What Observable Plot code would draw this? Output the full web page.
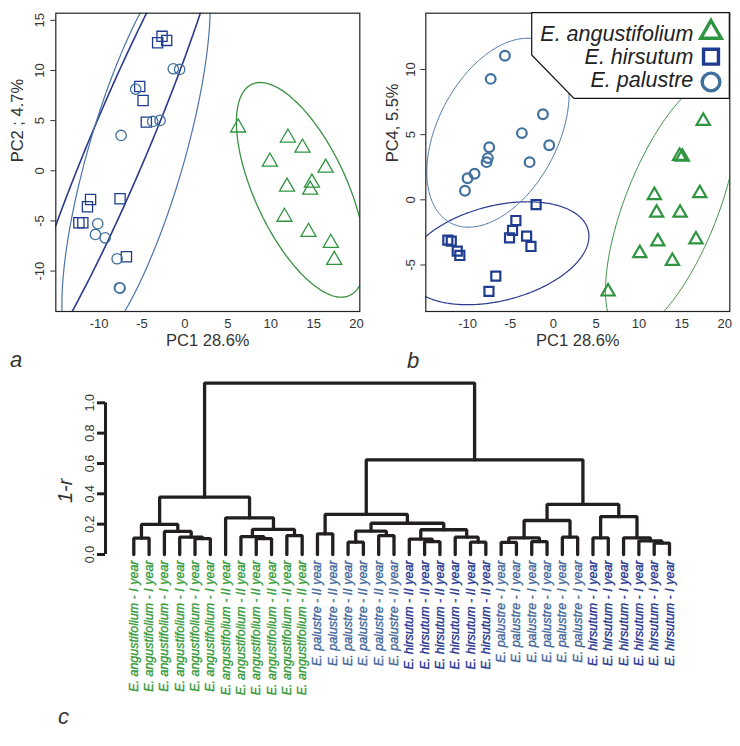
<!DOCTYPE html>
<html><head><meta charset="utf-8">
<script src="https://cdn.jsdelivr.net/npm/d3@7"></script>
<script src="https://cdn.jsdelivr.net/npm/@observablehq/plot@0.6"></script>
<style>
body{margin:0;background:#fff;}
#fig{position:relative;width:740px;height:746px;font-family:"Liberation Sans",Arial,sans-serif;}
#fig > svg{position:absolute;}
</style></head><body><div id="fig"></div>
<script>
// ---------- species ----------
const species = ["E. angustifolium", "E. hirsutum", "E. palustre"];
const speciesSymbols = ["triangle", "square", "circle"];
const speciesColors = ["#2f9440", "#1f3c8f", "#40709e"];
const ellipseColors = ["#3a9043", "#2b3a8c", "#4a74a8"];
const labelColors = ["#369a3a", "#27378f", "#44689b"];

// ---------- panel a: PC1 vs PC2 ----------
const angA_pc1 = [6.2, 12.0, 13.7, 9.9, 16.4, 14.8, 14.6, 11.9, 11.6, 14.4, 17.0, 17.4];
const angA_pc2 = [4.3, 3.3, 2.3, 0.9, 0.3, -1.2, -1.9, -1.6, -4.6, -6.1, -7.2, -8.9];
const hirA_pc1 = [-2.67, -3.18, -2.13, -5.27, -4.88, -4.5, -11.0, -11.36, -7.56, -12.36, -11.9, -6.82];
const hirA_pc2 = [13.4, 12.76, 13.0, 8.4, 7.0, 4.85, -2.86, -3.59, -2.79, -5.18, -5.18, -8.57];
const palA_pc1 = [-1.36, -0.62, -5.74, -3.76, -2.9, -7.44, -10.16, -10.43, -9.3, -7.9, -7.64, -7.56];
const palA_pc2 = [10.17, 10.1, 8.14, 4.92, 5.02, 3.52, -5.28, -6.35, -6.68, -8.77, -11.66, -11.7];
// ellipse: centre x, centre y, half-width, half-height, correlation
const ellA_ang = [13.5, -1.9, 7.5, 10.7, -0.63];
const ellA_hir = [-7.5, 3.0, 12.2, 24.0, 0.953];
const ellA_pal = [-5.7, 1.5, 8.64, 20.0, 0.741];

// ---------- panel b: PC1 vs PC4 ----------
const angB_pc1 = [17.5, 14.75, 15.06, 17.1, 11.8, 12.06, 14.8, 12.2, 16.65, 10.1, 13.9, 6.4];
const angB_pc4 = [6.05, 3.35, 3.3, 0.5, 0.35, -1.0, -1.0, -3.2, -3.05, -4.1, -4.7, -7.05];
const hirB_pc1 = [-2.0, -4.36, -4.75, -5.1, -3.11, -2.6, -12.3, -11.9, -11.2, -10.9, -6.7, -7.5];
const hirB_pc4 = [-0.36, -1.59, -2.35, -2.92, -2.79, -3.58, -3.09, -3.17, -3.94, -4.27, -5.86, -7.03];
const palB_pc1 = [-5.64, -7.3, -1.2, -3.66, -0.47, -7.47, -7.63, -7.78, -2.76, -9.18, -10.0, -10.3];
const palB_pc4 = [11.05, 9.28, 6.57, 5.12, 4.19, 4.04, 3.2, 2.89, 2.89, 2.0, 1.66, 0.69];
const ellB_ang = [13.8, -0.5, 7.7, 9.8, 0.66];
const ellB_hir = [-6.5, -4.1, 10.66, 3.95, 0.33];
const ellB_pal = [-6.45, 5.15, 8.3, 7.25, 0.415];

// ---------- axes ----------
const xTicks = [-10, -5, 0, 5, 10, 15, 20];
const yTicksA = [-10, -5, 0, 5, 10, 15];
const yTicksB = [-5, 0, 5, 10];
const xLabel = "PC1 28.6%";
const yLabelA = "PC2 ; 4.7%";
const yLabelB = "PC4, 5.5%";

// ---------- panel c: dendrogram ----------
const leafGroups = [
  {sp: 0, year: "I", n: 6}, {sp: 0, year: "II", n: 6},
  {sp: 2, year: "II", n: 6}, {sp: 1, year: "II", n: 6},
  {sp: 2, year: "I", n: 6}, {sp: 1, year: "I", n: 6}
];
// merges: negative = leaf number, positive = earlier merge (1-based); height in 1-r
const merges = [
  [-5, -6, 0.105], [-4, 1, 0.115], [-3, 2, 0.152], [-1, -2, 0.108], [4, 3, 0.198],
  [-9, -10, 0.105], [-8, 6, 0.118], [-11, -12, 0.125], [7, 8, 0.165], [-7, 9, 0.242],
  [5, 10, 0.378],
  [-13, -14, 0.136], [-15, -16, 0.081], [-17, -18, 0.125], [13, 14, 0.154],
  [-20, -21, 0.085], [-19, 16, 0.102], [-23, -24, 0.081], [-22, 18, 0.114], [17, 19, 0.163],
  [15, 20, 0.206], [12, 21, 0.264],
  [-25, -26, 0.08], [-27, -28, 0.085], [23, 24, 0.11], [-29, -30, 0.114], [25, 26, 0.224],
  [-31, -32, 0.11], [-35, -36, 0.075], [-34, 29, 0.09], [-33, 30, 0.11], [28, 31, 0.25],
  [27, 32, 0.33], [22, 33, 0.624], [11, 34, 1.13]
];
const cTicks = [0, 0.2, 0.4, 0.6, 0.8, 1.0];
const cAxisLabel = "1-r";

// ================= drawing =================
const FONT = "'Liberation Sans', Arial, sans-serif";
const fig = document.getElementById("fig");

function ellipsePts(p, n = 360) {
  const [cx, cy, sx, sy, r] = p, q = Math.sqrt(1 - r * r);
  return d3.range(n + 1).map(i => {
    const t = 2 * Math.PI * i / n;
    return {x: cx + sx * Math.cos(t), y: cy + sy * (r * Math.cos(t) + q * Math.sin(t))};
  });
}
function pts(xs, ys) { return xs.map((x, i) => ({x, y: ys[i]})); }

function scatter(o) {
  const marks = [];
  o.ells.forEach((e, i) => marks.push(Plot.line(ellipsePts(e), {x: "x", y: "y", stroke: ellipseColors[i], strokeWidth: o.ew[i], clip: true})));
  o.pts.forEach((p, i) => marks.push(Plot.dot(p, {x: "x", y: "y", symbol: speciesSymbols[i], stroke: speciesColors[i], strokeWidth: o.sw, r: o.rs[i], fill: "none"})));
  marks.push(Plot.axisX({ticks: xTicks, tickSize: 0, tickPadding: 7, tickFormat: d => String(d), label: null, fontSize: 13, fill: "#333"}));
  marks.push(Plot.axisY({ticks: o.yTicks, tickSize: 5, tickFormat: () => "", label: null, stroke: "#333"}));
  marks.push(Plot.text(o.yTicks, {x: o.xd[0], y: d => d, text: d => String(d), rotate: -90, dx: o.ytDx, fontSize: 13, fill: "#333"}));
  marks.push(Plot.text([xLabel], {frameAnchor: "bottom", dy: 34, fontSize: 16.5, fill: "#333"}));
  marks.push(Plot.text([o.ylab], {frameAnchor: "left", rotate: -90, dx: o.ylabDx, fontSize: 16.5, fill: "#333"}));
  marks.push(Plot.frame({stroke: "#222", strokeWidth: 1.2}));
  return Plot.plot({
    width: 370, height: 370, marginLeft: 55.3, marginRight: 10.7, marginTop: 12.7, marginBottom: 59,
    x: {domain: o.xd}, y: {domain: o.yd},
    style: {fontFamily: FONT, background: "transparent", overflow: "visible"},
    marks
  });
}

const plotA = scatter({
  xd: [-15.05, 20.38], yd: [-14.03, 15.71], yTicks: yTicksA,
  ells: [ellA_ang, ellA_hir, ellA_pal], ew: [1.3, 1.6, 1.2],
  pts: [pts(angA_pc1, angA_pc2), pts(hirA_pc1, hirA_pc2), pts(palA_pc1, palA_pc2)],
  sw: 1.3, rs: [5.6, 5.75, 5.2], ylab: yLabelA, ylabDx: -38, ytDx: -16
});
plotA.style.left = "0px"; plotA.style.top = "0px";
fig.appendChild(plotA);

const plotB = scatter({
  xd: [-14.87, 20.6], yd: [-8.57, 14.32], yTicks: yTicksB,
  ells: [ellB_ang, ellB_hir, ellB_pal], ew: [1.0, 1.2, 1.0],
  pts: [pts(angB_pc1, angB_pc4), pts(hirB_pc1, hirB_pc4), pts(palB_pc1, palB_pc4)],
  sw: 2.2, rs: [4.9, 5.1, 4.85], ylab: yLabelB, ylabDx: -33, ytDx: -15
});
plotB.style.left = "370px"; plotB.style.top = "0px";
fig.appendChild(plotB);

// legend for panel b
{
  const svg = d3.select(plotB);
  const g = svg.append("g");
  g.append("path")
    .attr("d", "M161.7,12.7H359.3V98.3H204L161.7,55Z")
    .attr("fill", "#fff").attr("stroke", "#111").attr("stroke-width", 1.2);
  const baselines = [40.7, 64.3, 87.3];
  const symY = [32.3, 56.7, 82];
  const symR = [7.6, 8.4, 8.85];
  species.forEach((s, i) => {
    g.append("text").attr("x", 323.3).attr("y", baselines[i]).attr("text-anchor", "end")
      .attr("font-family", FONT).attr("font-style", "italic").attr("font-size", 21.5).attr("fill", "#222").text(s);
    const sym = {triangle: d3.symbolTriangle, square: d3.symbolSquare, circle: d3.symbolCircle}[speciesSymbols[i]];
    g.append("path").attr("d", d3.symbol(sym, Math.PI * symR[i] * symR[i])())
      .attr("transform", `translate(341,${symY[i]})`)
      .attr("fill", "none").attr("stroke", speciesColors[i]).attr("stroke-width", 3.4);
  });
}

// dendrogram layout
const leaves = [];
leafGroups.forEach(gp => { for (let k = 0; k < gp.n; k++) leaves.push({i: leaves.length + 1, sp: gp.sp, label: `${species[gp.sp]} - ${gp.year} year`}); });
const mX = [], segs = [];
const nx = id => id < 0 ? -id : mX[id - 1];
const nh = id => id < 0 ? 0 : merges[id - 1][2];
merges.forEach(([a, b, h], k) => {
  const xa = nx(a), xb = nx(b);
  mX.push((xa + xb) / 2);
  [[xa, nh(a)], [xa, h], [xb, h], [xb, nh(b)]].forEach(([x, y]) => segs.push({id: k, x, y}));
});

const inL = 28.3;
const cMarks = [
  Plot.line(segs, {x: "x", y: "y", z: "id", stroke: "#231f20", strokeWidth: 3.3, strokeLinejoin: "miter", strokeLinecap: "round"}),
  Plot.ruleX([1], {y1: 0, y2: 1, dx: -inL, stroke: "#231f20", strokeWidth: 3}),
  Plot.axisY({ticks: cTicks, tickSize: 8, tickFormat: () => "", label: null, stroke: "#231f20", strokeWidth: 3}),
  Plot.text(cTicks, {x: 1, y: d => d, dx: -inL - 16, text: d => d.toFixed(1), rotate: -90, fontSize: 12.5, fill: "#333"}),
  Plot.text([cAxisLabel], {x: 1, y: 0.42, dx: -inL - 40, rotate: -90, fontSize: 20, fontStyle: "italic", fill: "#333"})
];
[0, 1, 2].forEach(s => cMarks.push(Plot.text(leaves.filter(d => d.sp === s), {
  x: "i", y: 0, text: "label", rotate: -90, textAnchor: "end", dy: 6, fontSize: 12.5, fontStyle: "italic",
  fill: labelColors[s], stroke: labelColors[s], strokeWidth: 0.35
})));
const plotC = Plot.plot({
  width: 740, height: 376, marginLeft: 105, marginRight: 71, marginTop: 32.3, marginBottom: 192,
  x: {domain: [1, 36], insetLeft: inL, axis: null}, y: {domain: [0, 1]},
  style: {fontFamily: FONT, background: "transparent", overflow: "visible"},
  marks: cMarks
});
plotC.style.left = "0px"; plotC.style.top = "370px";
fig.appendChild(plotC);

// panel letters
const ov = d3.select(fig).append("svg").attr("width", 740).attr("height", 746).style("left", "0px").style("top", "0px").style("pointer-events", "none");
[["a", 10, 367], ["b", 407, 368], ["c", 58, 724]].forEach(([t, x, y]) =>
  ov.append("text").attr("x", x).attr("y", y).attr("font-family", FONT).attr("font-style", "italic").attr("font-size", 22).attr("fill", "#333").text(t));
</script></body></html>
